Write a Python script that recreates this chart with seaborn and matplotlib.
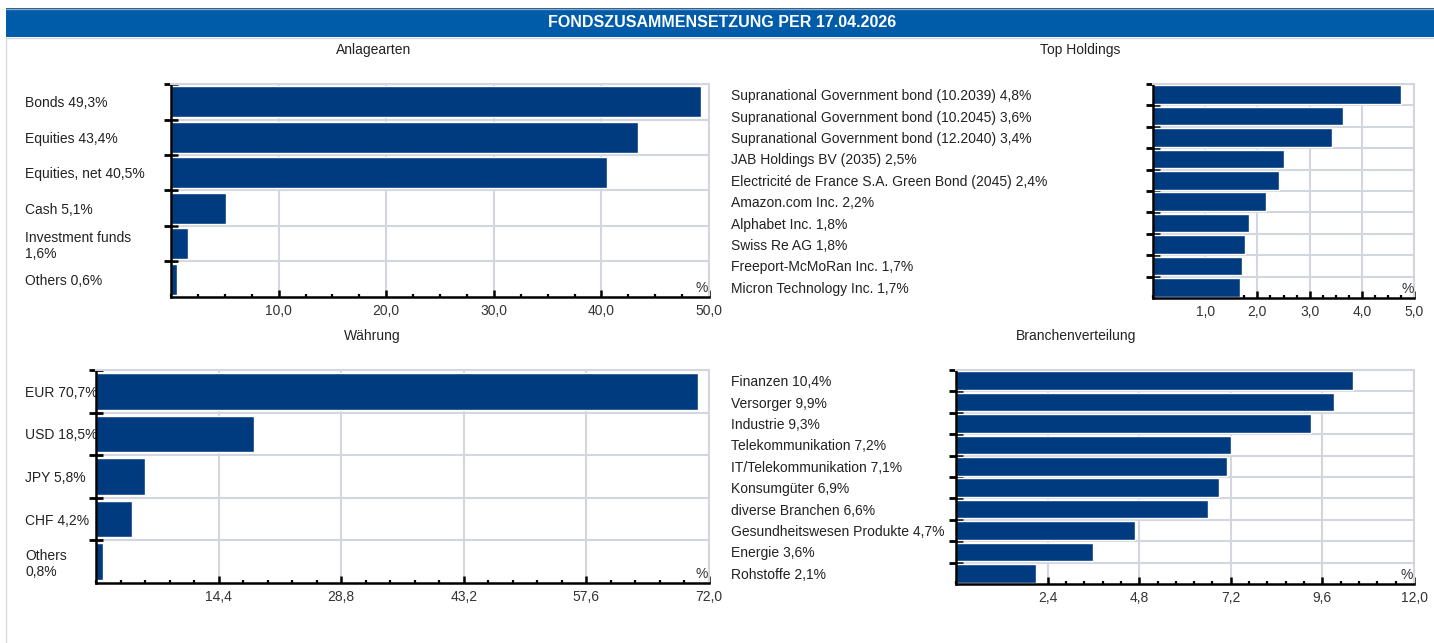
import numpy as np
import matplotlib
matplotlib.use("Agg")
import matplotlib.pyplot as plt
from matplotlib.patches import Rectangle
import seaborn as sns

# --- Daten ---
anlage_labels = ["Bonds 49,3%", "Equities 43,4%", "Equities, net 40,5%", "Cash 5,1%",
                 "Investment funds\n1,6%", "Others 0,6%"]
anlage_values = [49.3, 43.4, 40.5, 5.1, 1.6, 0.6]

holdings_labels = ["Supranational Government bond (10.2039) 4,8%",
                   "Supranational Government bond (10.2045) 3,6%",
                   "Supranational Government bond (12.2040) 3,4%",
                   "JAB Holdings BV (2035) 2,5%",
                   "Electricité de France S.A. Green Bond (2045) 2,4%",
                   "Amazon.com Inc. 2,2%",
                   "Alphabet Inc. 1,8%",
                   "Swiss Re AG 1,8%",
                   "Freeport-McMoRan Inc. 1,7%",
                   "Micron Technology Inc. 1,7%"]
holdings_values = [4.76, 3.64, 3.43, 2.51, 2.41, 2.17, 1.84, 1.76, 1.71, 1.67]

waehrung_labels = ["EUR 70,7%", "USD 18,5%", "JPY 5,8%", "CHF 4,2%", "Others\n0,8%"]
waehrung_values = [70.7, 18.5, 5.8, 4.2, 0.8]

branchen_labels = ["Finanzen 10,4%", "Versorger 9,9%", "Industrie 9,3%", "Telekommunikation 7,2%",
                   "IT/Telekommunikation 7,1%", "Konsumgüter 6,9%", "diverse Branchen 6,6%",
                   "Gesundheitswesen Produkte 4,7%", "Energie 3,6%", "Rohstoffe 2,1%"]
branchen_values = [10.4, 9.9, 9.3, 7.2, 7.1, 6.9, 6.6, 4.7, 3.6, 2.1]

W, H = 1434, 643
BAR = "#003b80"
GRID = "#d3d6df"
TXT = "#222222"
FS = 10

sns.set_theme(style="white")
plt.rcParams["font.family"] = ["Liberation Sans", "DejaVu Sans"]

fig = plt.figure(figsize=(W / 100, H / 100), dpi=100)


def px_axes(x0, y0, x1, y1):
    return fig.add_axes([x0 / W, 1 - y1 / H, (x1 - x0) / W, (y1 - y0) / H])


def panel(ax, labels, values, xmax, step, nminor, label_x):
    sns.barplot(x=values, y=labels, ax=ax, color=BAR, saturation=1, width=0.86, orient="h")
    n = len(labels)
    ax.set_xlim(0, xmax)
    ax.set_ylim(n - 0.5, -0.5)

    major = np.arange(step, xmax + step / 2, step)
    ax.set_xticks(major, [f"{v:.1f}".replace(".", ",") for v in major])
    ax.set_xticks(np.arange(0, xmax + 1e-9, step / nminor), minor=True)
    ax.tick_params(axis="x", which="major", bottom=True, direction="in", length=5, width=1.8,
                   color="black", labelsize=FS, labelcolor="#333333", pad=5)
    ax.tick_params(axis="x", which="minor", bottom=True, direction="in", length=2.5, width=1.6,
                   color="black")

    # Kategoriegrenzen als Hauptticks, Beschriftung über Nebenticks
    bounds = np.arange(-0.5, n - 1, 1.0)
    ax.set_yticks(bounds, [""] * len(bounds))
    ax.set_yticks(np.arange(n), labels, minor=True)
    x0_px = ax.get_position().x0 * W
    ax.tick_params(axis="y", which="major", left=True, direction="inout", length=10, width=2,
                   color="black")
    ax.tick_params(axis="y", which="minor", left=True, length=0, labelsize=FS, labelcolor=TXT,
                   pad=(x0_px - label_x) * 0.72)
    for t in ax.get_yticklabels(minor=True):
        t.set_horizontalalignment("left")
        t.set_linespacing(1.15)

    ax.grid(True, which="major", color=GRID, linewidth=1.5)
    ax.set_axisbelow(True)
    ax.set_xlabel("")
    ax.set_ylabel("")
    for side in ["top", "right"]:
        ax.spines[side].set_color(GRID)
        ax.spines[side].set_linewidth(1.5)
    for side in ["left", "bottom"]:
        ax.spines[side].set_color("black")
        ax.spines[side].set_linewidth(1.8)
    ax.text(0.998, 0.01, "%", transform=ax.transAxes, ha="right", va="bottom",
            fontsize=FS, color="#333333")


ax1 = px_axes(171, 84, 709, 297)
panel(ax1, anlage_labels, anlage_values, 50.0, 10.0, 4, 25)
ax2 = px_axes(1153, 84, 1414, 298)
panel(ax2, holdings_labels, holdings_values, 5.0, 1.0, 4, 731)
ax3 = px_axes(96, 370, 709, 583)
panel(ax3, waehrung_labels, waehrung_values, 72.0, 14.4, 5, 25)
ax4 = px_axes(956, 370, 1414, 584)
panel(ax4, branchen_labels, branchen_values, 12.0, 2.4, 5, 731)

# Panel-Titel
for txt, x, y in [("Anlagearten", 374, 50), ("Top Holdings", 1080, 50),
                  ("Währung", 372, 336), ("Branchenverteilung", 1076, 336)]:
    fig.text(x / W, 1 - y / H, txt, ha="center", va="center", fontsize=FS, color=TXT)

# Kopfzeile
fig.patches.append(Rectangle((6 / W, 1 - 37 / H), 1 - 6 / W, 29 / H, transform=fig.transFigure,
                             facecolor="#005ca8", edgecolor="none", zorder=0))
fig.lines.append(plt.Line2D([6 / W, 1], [1 - 8.5 / H] * 2, transform=fig.transFigure,
                            color="#9aa3b0", linewidth=1))
fig.lines.append(plt.Line2D([6 / W, 1], [1 - 38 / H] * 2, transform=fig.transFigure,
                            color="#cfd3dc", linewidth=1))
fig.lines.append(plt.Line2D([6.5 / W] * 2, [0, 1 - 37 / H], transform=fig.transFigure,
                            color="#d8dbe2", linewidth=1))
fig.text(722 / W, 1 - 22.5 / H, "FONDSZUSAMMENSETZUNG PER 17.04.2026", ha="center", va="center",
         fontsize=11.5, fontweight="bold", color="white")

fig.savefig("out.png", dpi=100)
